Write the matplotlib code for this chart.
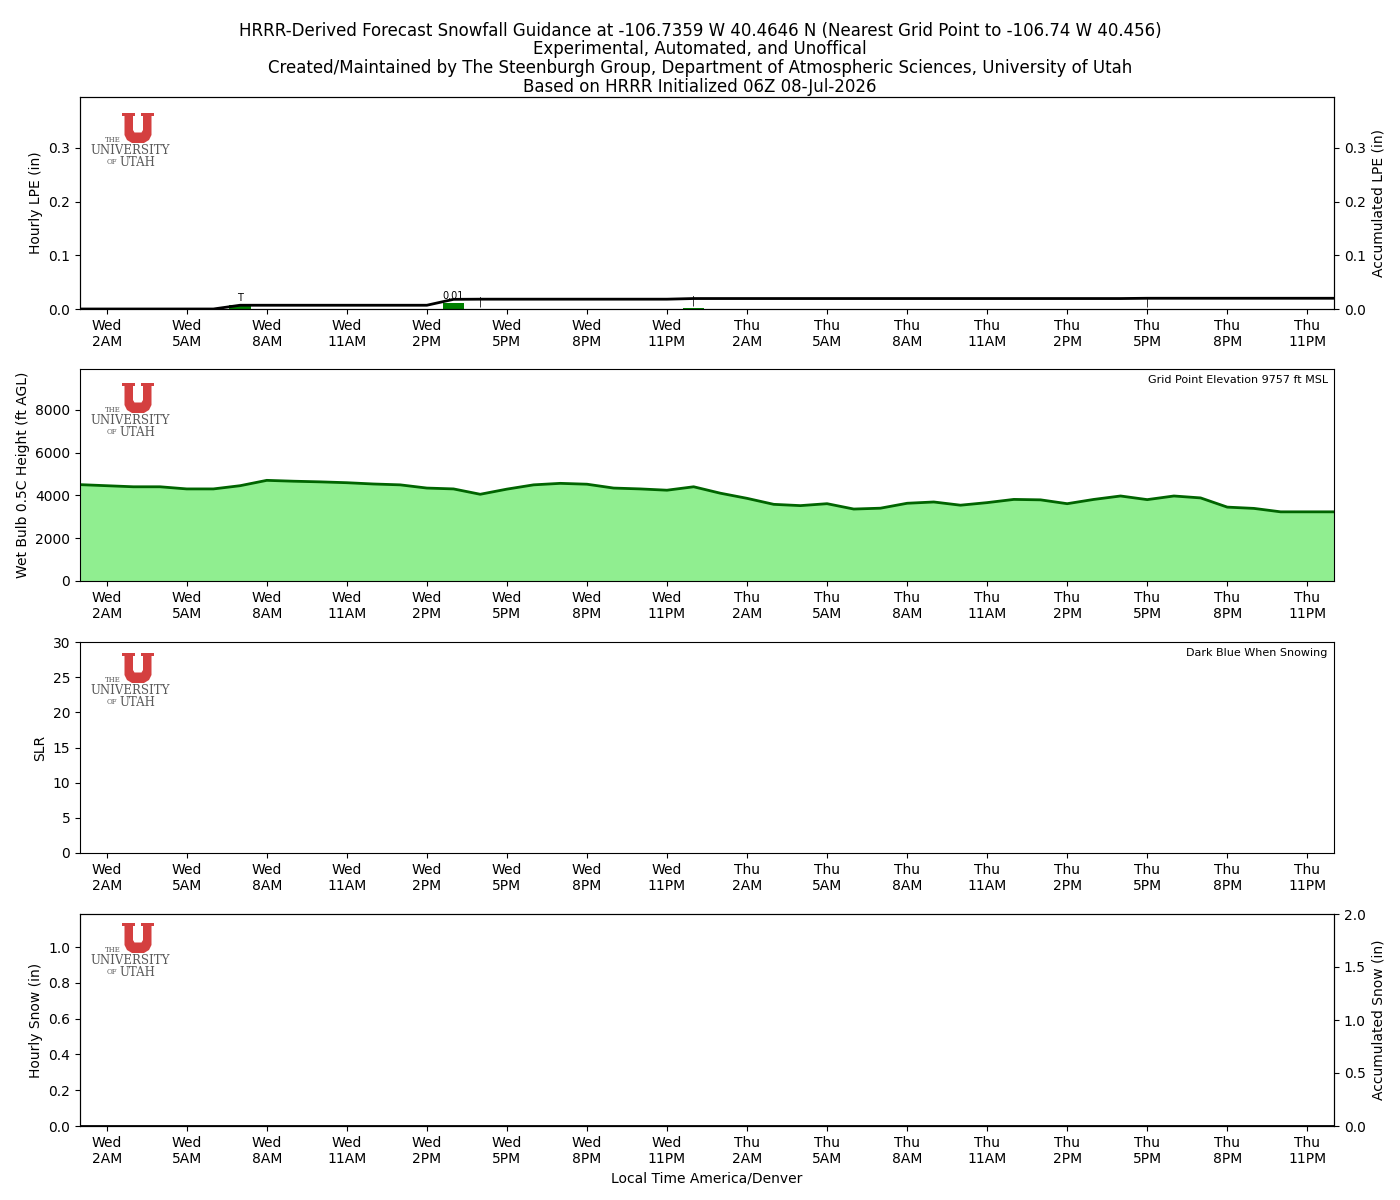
import numpy as np
import pandas as pd
import matplotlib
matplotlib.use('Agg')
import matplotlib.pyplot as plt
import matplotlib.dates as mdates
from matplotlib.patches import Polygon

# forecast hours, HRRR 06Z init -> local (America/Denver) time
times = pd.date_range('2026-07-08 01:00', periods=48, freq='h')

hourly_lpe = np.zeros(48)
hourly_lpe[6] = 0.007
hourly_lpe[14] = 0.011
hourly_lpe[15] = 0.0003
hourly_lpe[23] = 0.0012
hourly_lpe[40] = 0.0005
accum_lpe = np.cumsum(hourly_lpe)
lpe_labels = {6: 'T', 14: '0.01', 15: '|', 23: '|', 40: '|'}

wetbulb = [4500, 4450, 4400, 4400, 4300, 4300, 4450, 4700, 4660, 4630, 4590, 4530,
           4490, 4340, 4300, 4050, 4290, 4490, 4560, 4520, 4340, 4300, 4240, 4400,
           4100, 3860, 3580, 3520, 3610, 3360, 3400, 3630, 3690, 3540, 3660, 3810,
           3790, 3610, 3810, 3970, 3800, 3970, 3880, 3450, 3390, 3230, 3230, 3230]
elevation = 9757

slr = np.full(48, np.nan)
hourly_snow = np.zeros(48)
accum_snow = np.cumsum(hourly_snow)

fig = plt.figure(figsize=(14, 12), dpi=100)
W, H = 1400.0, 1200.0

def panel(top, bottom):
    return fig.add_axes([80 / W, 1 - bottom / H, (1334 - 80) / W, (bottom - top) / H])

ax1 = panel(97, 309)
ax2 = panel(369, 581)
ax3 = panel(642, 853)
ax4 = panel(914, 1126)

fig.suptitle('HRRR-Derived Forecast Snowfall Guidance at -106.7359 W 40.4646 N (Nearest Grid Point to -106.74 W 40.456)\n'
             'Experimental, Automated, and Unoffical\n'
             'Created/Maintained by The Steenburgh Group, Department of Atmospheric Sciences, University of Utah\n'
             'Based on HRRR Initialized 06Z 08-Jul-2026',
             y=0.982, fontsize=12, linespacing=1.05)

bw = 0.8 / 24

# panel 1: liquid precip
ax1.bar(times, hourly_lpe, width=bw, color='green')
for i, lab in lpe_labels.items():
    ax1.text(times[i], hourly_lpe[i] + 0.004, lab, ha='center', va='bottom', fontsize=7)
ax1.set_ylim(0, 0.395)
ax1.set_yticks([0, 0.1, 0.2, 0.3])
ax1.set_ylabel('Hourly LPE (in)')
ax1b = ax1.twinx()
ax1b.plot(times, accum_lpe, color='black', lw=2)
ax1b.set_ylim(0, 0.395)
ax1b.set_yticks([0, 0.1, 0.2, 0.3])
ax1b.set_ylabel('Accumulated LPE (in)')

# panel 2: wet bulb 0.5C height
ax2.fill_between(times, wetbulb, 0, color='lightgreen')
ax2.plot(times, wetbulb, color='darkgreen', lw=2)
ax2.set_ylim(0, 9900)
ax2.set_yticks([0, 2000, 4000, 6000, 8000])
ax2.set_ylabel('Wet Bulb 0.5C Height (ft AGL)')
ax2.text(0.995, 0.97, 'Grid Point Elevation %d ft MSL' % elevation, transform=ax2.transAxes,
         ha='right', va='top', fontsize=8)

# panel 3: SLR
ax3.plot(times, slr, color='darkblue', lw=2)
ax3.set_ylim(0, 30)
ax3.set_ylabel('SLR')
ax3.text(0.995, 0.97, 'Dark Blue When Snowing', transform=ax3.transAxes,
         ha='right', va='top', fontsize=8)

# panel 4: snow
ax4.bar(times, hourly_snow, width=bw, color='blue')
ax4.set_ylim(0, 1.185)
ax4.set_yticks([0, 0.2, 0.4, 0.6, 0.8, 1.0])
ax4.set_ylabel('Hourly Snow (in)')
ax4.set_xlabel('Local Time America/Denver')
ax4b = ax4.twinx()
ax4b.plot(times, accum_snow, color='black', lw=2)
ax4b.set_ylim(0, 2)
ax4b.set_yticks([0, 0.5, 1.0, 1.5, 2.0])
ax4b.set_ylabel('Accumulated Snow (in)')

for ax in (ax1, ax2, ax3, ax4):
    ax.set_xlim(times[0], times[-1])
    ax.xaxis.set_major_locator(mdates.HourLocator(byhour=range(2, 24, 3)))
    ax.xaxis.set_major_formatter(mdates.DateFormatter('%a\n%-I%p'))

# university of utah logo on each panel
u_shape = [(0, 0), (13, 0), (13, 3), (11, 3), (11, 17), (12.5, 19.5), (19.5, 19.5), (21, 17),
           (21, 3), (19, 3), (19, 0), (32, 0), (32, 3), (29.5, 3), (29.5, 22), (27, 27),
           (22, 30), (10, 30), (5, 27), (2.5, 22), (2.5, 3), (0, 3)]
grey = '#5a5a5a'
for utop in (113, 383, 653, 923):
    lax = fig.add_axes([88 / W, 1 - (utop + 58) / H, 84 / W, 58 / H])
    lax.set_xlim(0, 84)
    lax.set_ylim(58, 0)
    lax.axis('off')
    lax.add_patch(Polygon([(x + 34, y) for x, y in u_shape], closed=True,
                          facecolor='#d43f3f', edgecolor='none'))
    lax.text(25, 27, 'THE', fontsize=5, color=grey, ha='center', va='center',
             family='DejaVu Serif')
    lax.text(42, 38, 'UNIVERSITY', fontsize=8.5, color=grey, ha='center', va='center',
             family='DejaVu Serif')
    lax.text(29, 49, 'OF', fontsize=5, color=grey, ha='right', va='center',
             family='DejaVu Serif')
    lax.text(31, 49.5, 'UTAH', fontsize=8.5, color=grey, ha='left', va='center',
             family='DejaVu Serif')

fig.savefig('out.png', dpi=100)
